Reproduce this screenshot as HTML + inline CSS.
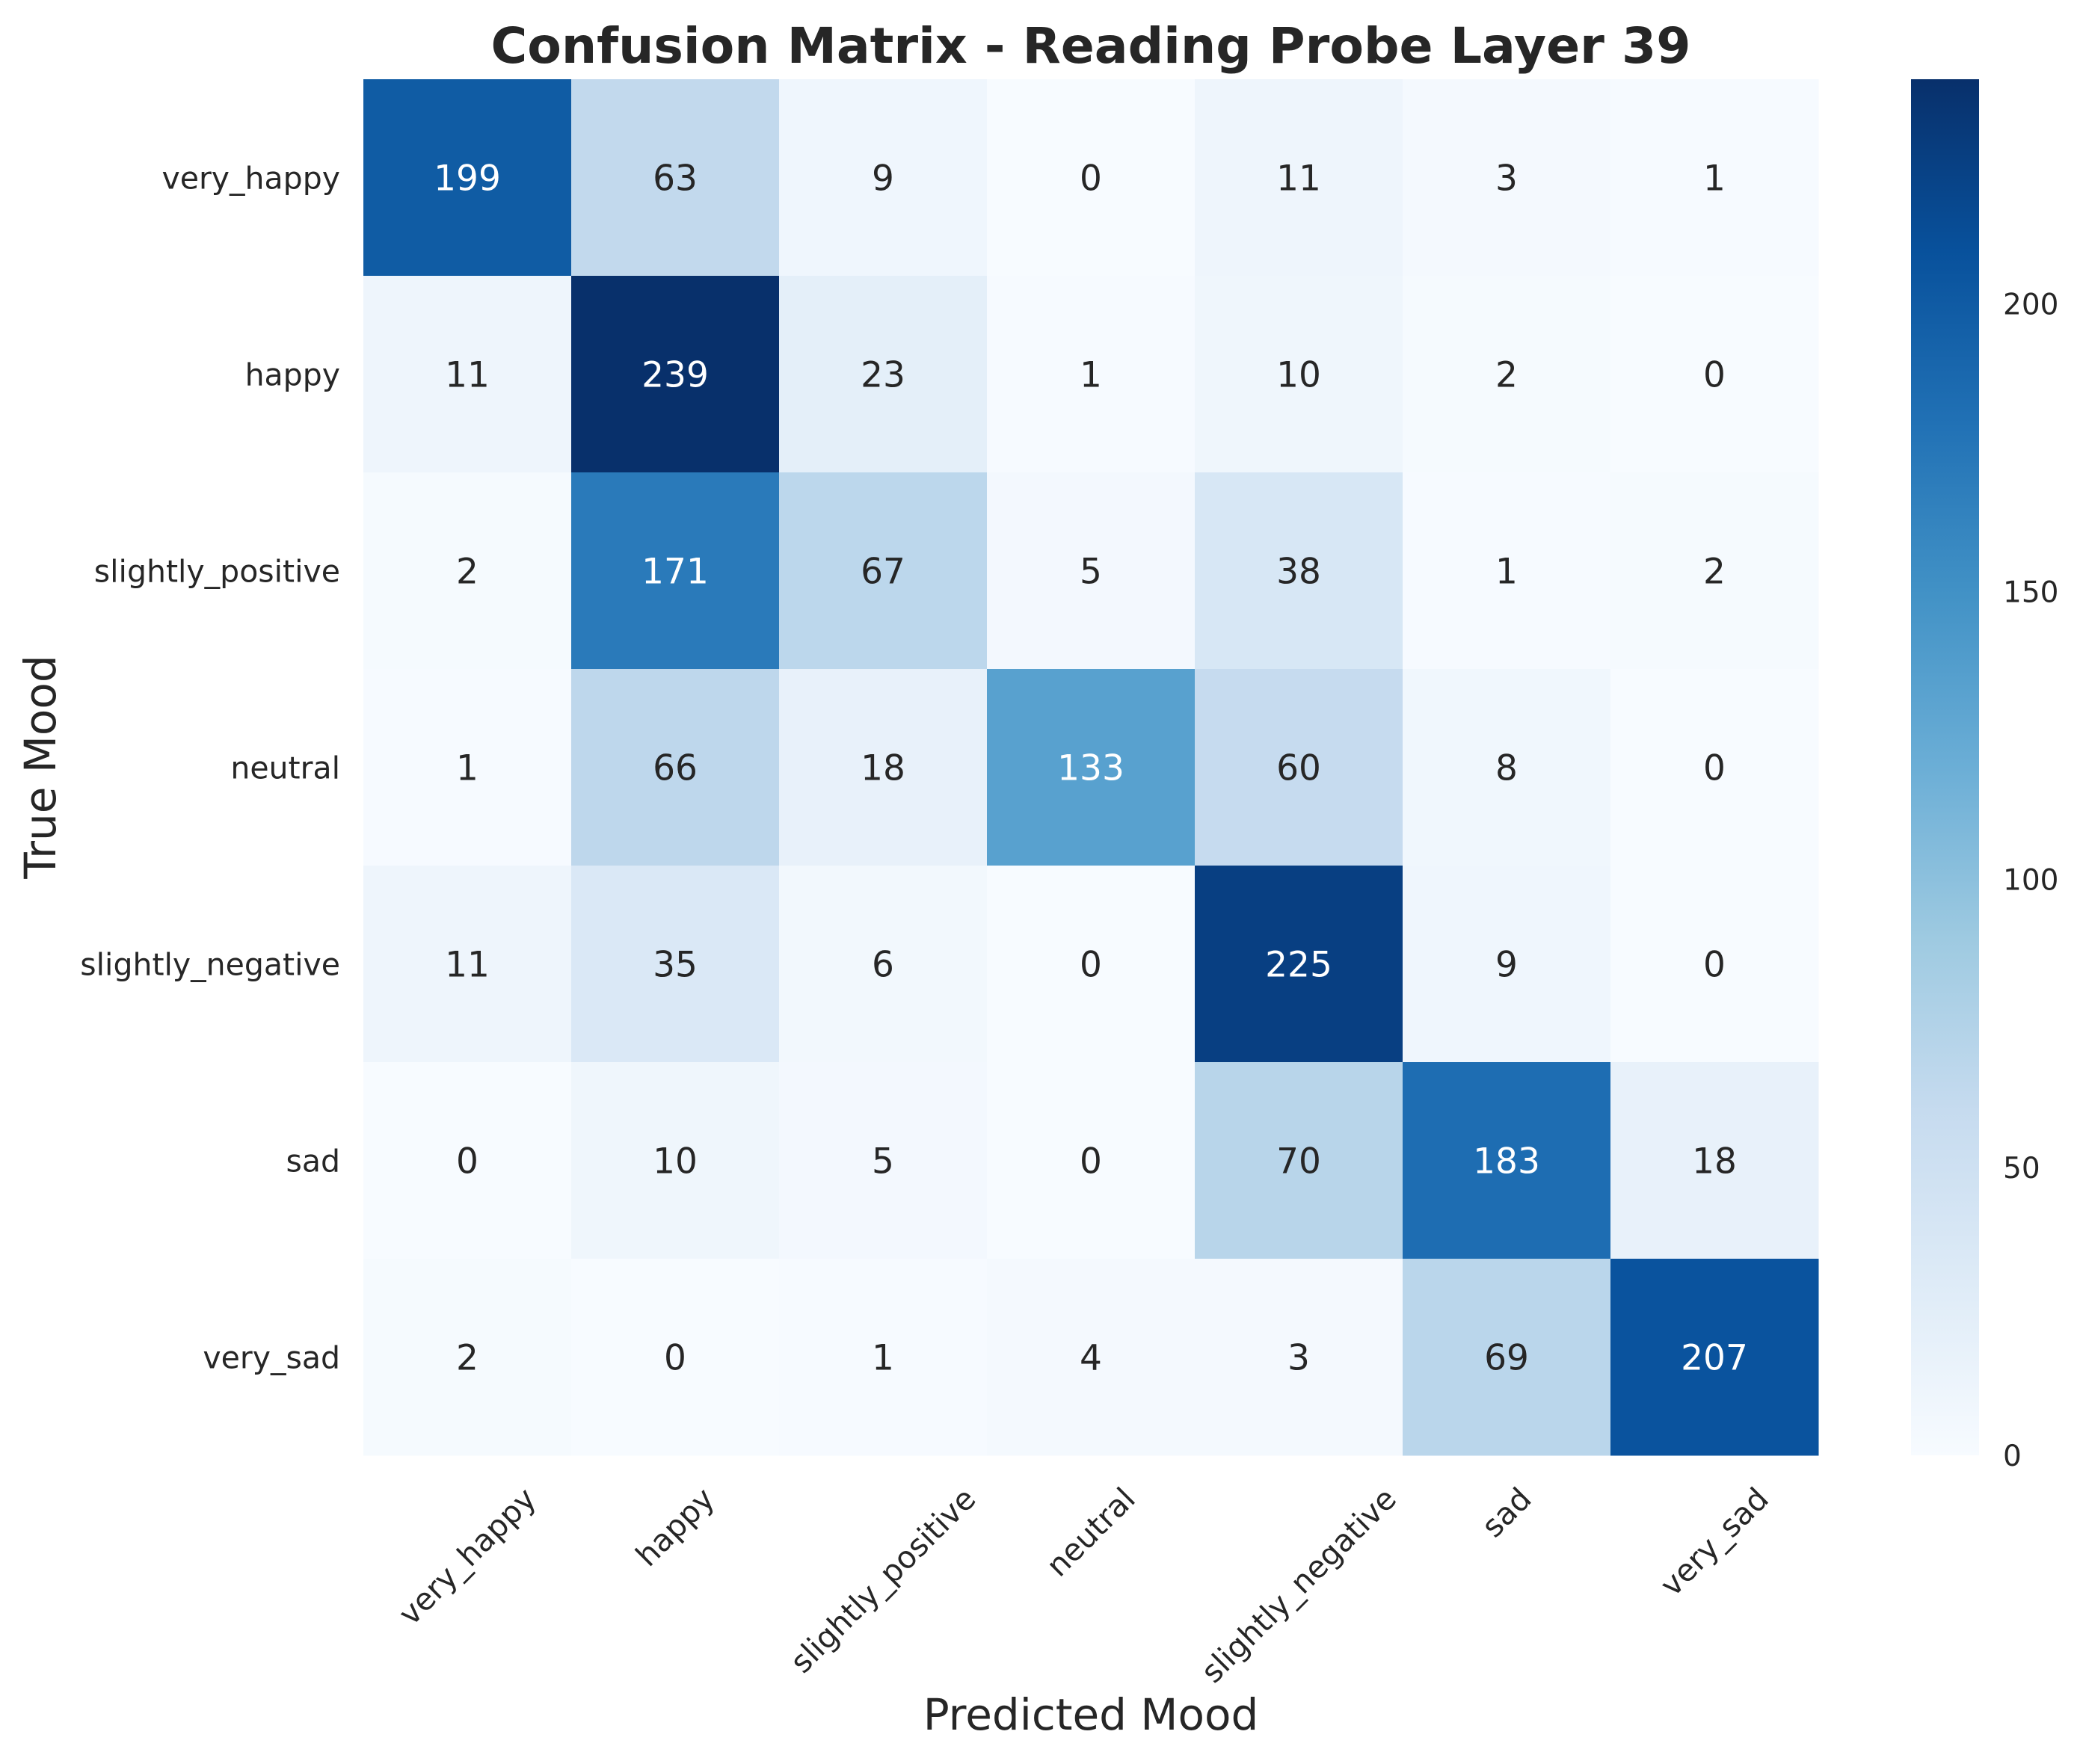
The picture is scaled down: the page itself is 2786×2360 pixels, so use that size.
<!DOCTYPE html>
<html><head><meta charset="utf-8"><style>
html,body{margin:0;padding:0;background:#fff}
svg text{font-family:"DejaVu Sans","Liberation Sans",sans-serif;fill:#262626}
</style></head><body>
<svg id="chart" width="2786" height="2355" viewBox="0 0 2786 2355" xmlns="http://www.w3.org/2000/svg">
<text x="1459" y="84" text-anchor="middle" font-size="66" font-weight="bold" textLength="1605" lengthAdjust="spacingAndGlyphs">Confusion Matrix - Reading Probe Layer 39</text>
<g id="cells"></g>
<g id="ylabels"></g>
<g id="xlabels"></g>
<text x="1459" y="2314" text-anchor="middle" font-size="58">Predicted Mood</text>
<text transform="translate(74,1026) rotate(-90)" text-anchor="middle" font-size="58">True Mood</text>
<defs><linearGradient id="cbg" x1="0" y1="1" x2="0" y2="0">
<stop offset="0" stop-color="#f7fbff"/><stop offset="0.125" stop-color="#deebf7"/><stop offset="0.25" stop-color="#c6dbef"/><stop offset="0.375" stop-color="#9ecae1"/><stop offset="0.5" stop-color="#6baed6"/><stop offset="0.625" stop-color="#4292c6"/><stop offset="0.75" stop-color="#2171b5"/><stop offset="0.875" stop-color="#08519c"/><stop offset="1" stop-color="#08306b"/></linearGradient></defs>
<rect x="2556" y="106" width="91" height="1841" fill="url(#cbg)"/>
<g id="cbticks"></g>
</svg>
<script>
const categories = ["very_happy","happy","slightly_positive","neutral","slightly_negative","sad","very_sad"];
const row0 = [199,63,9,0,11,3,1];
const row1 = [11,239,23,1,10,2,0];
const row2 = [2,171,67,5,38,1,2];
const row3 = [1,66,18,133,60,8,0];
const row4 = [11,35,6,0,225,9,0];
const row5 = [0,10,5,0,70,183,18];
const row6 = [2,0,1,4,3,69,207];
const colorbarTicks = [0,50,100,150,200];

const matrix=[row0,row1,row2,row3,row4,row5,row6];
const NS="http://www.w3.org/2000/svg";
const L=486,R=2432,T=106,B=1947;
const n=categories.length, cw=(R-L)/n, ch=(B-T)/n;
const vmin=0, vmax=Math.max(...matrix.flat());
const stops=["#f7fbff","#deebf7","#c6dbef","#9ecae1","#6baed6","#4292c6","#2171b5","#08519c","#08306b"].map(h=>[1,3,5].map(i=>parseInt(h.substr(i,2),16)));
function color(v){let t=Math.max(0,Math.min(1,(v-vmin)/(vmax-vmin)))*(stops.length-1);let i=Math.min(Math.floor(t),stops.length-2),f=t-i;
 return stops[i].map((c,k)=>Math.round(c+(stops[i+1][k]-c)*f));}
function lum(c){const l=c.map(x=>{x/=255;return x<=0.03928?x/12.92:Math.pow((x+0.055)/1.055,2.4)});return 0.2126*l[0]+0.7152*l[1]+0.0722*l[2];}
function xs(j){return L+j*cw;} function ys(i){return T+i*ch;}
const cells=document.getElementById('cells');
matrix.forEach((row,i)=>row.forEach((v,j)=>{
 const c=color(v);
 const r=document.createElementNS(NS,'rect');
 
 
 r.setAttribute('x',xs(j));r.setAttribute('y',ys(i));r.setAttribute('width',cw+0.5);r.setAttribute('height',ch+0.5);
 r.setAttribute('fill','rgb('+c.join(',')+')');cells.appendChild(r);
 const t=document.createElementNS(NS,'text');
 
 
 t.setAttribute('x',xs(j)+cw/2);t.setAttribute('y',ys(i)+ch/2+17);t.setAttribute('text-anchor','middle');t.setAttribute('font-size','47');
 t.style.fill=lum(c)>0.408?'#262626':'#ffffff';t.textContent=v;cells.appendChild(t);
}));
const yl=document.getElementById('ylabels'), xl=document.getElementById('xlabels');
categories.forEach((c,i)=>{
 const t=document.createElementNS(NS,'text');
 
 
 t.setAttribute('x',455);t.setAttribute('y',ys(i)+ch/2+15);t.setAttribute('text-anchor','end');t.setAttribute('font-size','41');t.textContent=c;yl.appendChild(t);
 const u=document.createElementNS(NS,'text');
 
 
 u.setAttribute('font-size','41');u.setAttribute('text-anchor','middle');u.setAttribute('dominant-baseline','central');u.textContent=c;xl.appendChild(u);
 const w=u.getComputedTextLength();
 const cy=1983+(w*0.707+30)/2;
 u.setAttribute('transform','translate('+(xs(i)+cw/2)+','+cy+') rotate(-45)');
});
const cb=document.getElementById('cbticks');
colorbarTicks.forEach(v=>{
 const y=B-(v-vmin)/(vmax-vmin)*(B-T);
 const t=document.createElementNS(NS,'text');
 
 
 t.setAttribute('x',2679);t.setAttribute('y',y+14);t.setAttribute('font-size','39');t.textContent=v;cb.appendChild(t);
});
</script>
</body></html>
